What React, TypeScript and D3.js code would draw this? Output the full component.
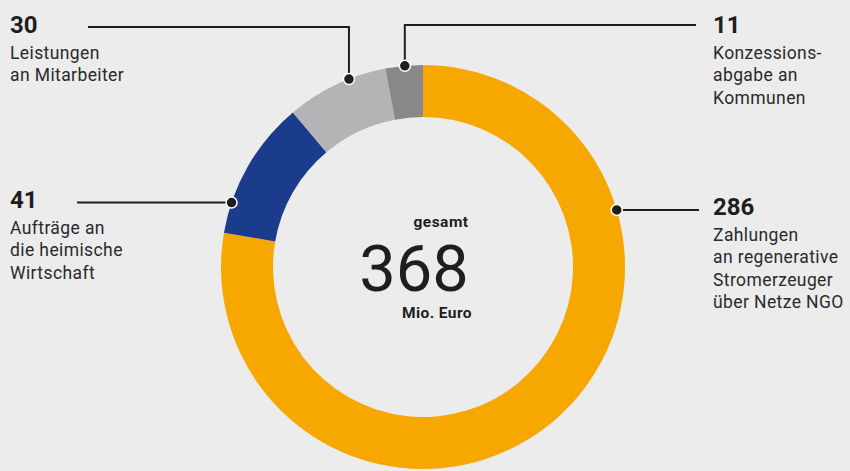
import React from 'react';
import { pie, arc, PieArcDatum } from 'd3';

// slices, clockwise from 12 o'clock
const values = [286, 41, 30, 11];
const colors = ['#f7a800', '#1b3b8c', '#b3b4b6', '#888888'];
const numberLabels = ['286', '41', '30', '11'];
const textLines = [
  ['Zahlungen', 'an regenerative', 'Stromerzeuger', 'über Netze NGO'],
  ['Aufträge an', 'die heimische', 'Wirtschaft'],
  ['Leistungen', 'an Mitarbeiter'],
  ['Konzessions-', 'abgabe an', 'Kommunen'],
];
const totalLabel = '368';

// layout for each callout (not data)
const callouts = [
  { frac: 0.263, kind: 'h', endX: 699, textX: 713, numY: 215 },
  { frac: 0.22, kind: 'h', endX: 77, textX: 10, numY: 208 },
  { frac: 0.634, kind: 'v', elbowY: 27, endX: 88, textX: 10, numY: 33 },
  { frac: 0.52, kind: 'v', elbowY: 25, endX: 696, textX: 713, numY: 33 },
];

const W = 850;
const H = 471;
const cx = 423;
const cy = 267;
const outerR = 202;
const innerR = 150;
const ink = '#1e1e1e';
const font = 'Roboto, "Open Sans", sans-serif';

export default function App() {
  const arcs = pie<number>().sort(null).value((d) => d)(values);
  const arcGen = arc<PieArcDatum<number>>().innerRadius(innerR).outerRadius(outerR);

  return (
    <svg width={W} height={H} style={{ position: 'absolute', left: 0, top: 0, background: '#ececec' }} fontFamily={font}>
      <rect width={W} height={H} fill="#ececec" />
      <g transform={`translate(${cx},${cy})`}>
        {arcs.map((a, i) => (
          <path key={i} d={arcGen(a) || ''} fill={colors[i]} />
        ))}
      </g>

      {arcs.map((a, i) => {
        const c = callouts[i];
        const ang = a.startAngle + (a.endAngle - a.startAngle) * c.frac;
        const dx = cx + outerR * Math.sin(ang);
        const dy = cy - outerR * Math.cos(ang);
        const d =
          c.kind === 'h'
            ? `M${dx},${dy}H${c.endX}`
            : `M${dx},${dy}V${c.elbowY}H${c.endX}`;
        return (
          <g key={i}>
            <path d={d} fill="none" stroke={ink} strokeWidth={2} />
            <circle cx={dx} cy={dy} r={5.5} fill={ink} stroke="#fff" strokeWidth={1.5} />
            <text x={c.textX} y={c.numY} fontSize={24} fontWeight={700} fill={ink}>
              {numberLabels[i]}
            </text>
            {textLines[i].map((t, j) => (
              <text key={j} x={c.textX} y={c.numY + 26 + j * 22.3} fontSize={17.5} letterSpacing={0.4} fill="#2a2a2a">
                {t}
              </text>
            ))}
          </g>
        );
      })}

      <text x={441} y={227} textAnchor="middle" fontSize={15.5} fontWeight={700} letterSpacing={0.5} fill={ink}>gesamt</text>
      <text x={414} y={291} textAnchor="middle" fontSize={65} fontWeight={400} fill={ink}>{totalLabel}</text>
      <text x={437} y={318} textAnchor="middle" fontSize={15.5} fontWeight={700} letterSpacing={0.4} fill={ink}>Mio. Euro</text>
    </svg>
  );
}
